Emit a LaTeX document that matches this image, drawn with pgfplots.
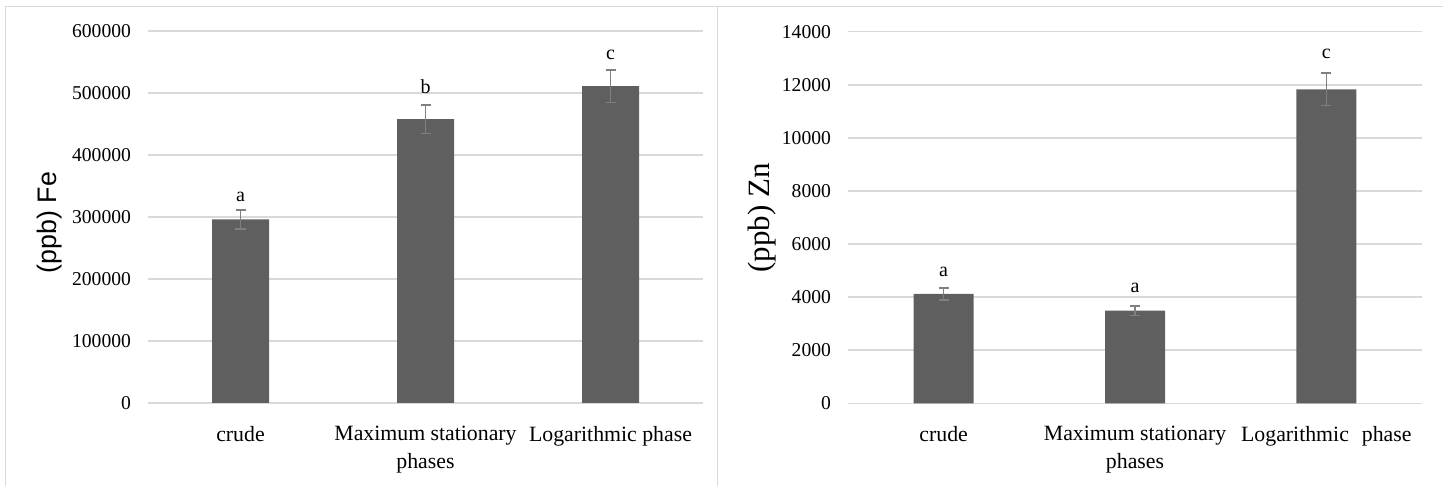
\documentclass[border=0pt]{standalone}
\usepackage{fontspec}
\setmainfont{Liberation Serif}
\newfontfamily\arialf{Liberation Sans}
\usepackage{pgfplots}
\usepackage{pgfplotstable}
\pgfplotsset{compat=1.18}
\definecolor{barc}{RGB}{95,95,95}
\definecolor{gridc}{RGB}{217,217,217}
\definecolor{errc}{RGB}{128,128,128}
\definecolor{framec}{RGB}{217,217,217}

\pgfplotstableread{
x y err
0 296000 15000
1 458000 23000
2 511000 26000
}\fedata
\pgfplotstableread{
x y lab
0 332000 a
1 509700 b
2 561300 c
}\felab
\pgfplotstableread{
x y err
0 4120 220
1 3490 180
2 11830 620
}\zndata
\pgfplotstableread{
x y lab
0 4945 a
1 4330 a
2 13160 c
}\znlab

\pgfplotsset{
 common/.style={
  scale only axis, anchor=south west,
  xmin=-0.5, xmax=2.5, xtick={0,1,2},
  axis line style={draw=none}, major tick length=0pt,
  ymajorgrids, major grid style={gridc, line width=0.75pt},
  tick label style={/pgf/number format/assume math mode=true},
  yticklabel style={font=\fontsize{9.8}{12}\selectfont, /pgf/number format/fixed, /pgf/number format/1000 sep={}, xshift=-5pt},
  scaled y ticks=false,
  xticklabel style={font=\fontsize{10.9}{14}\selectfont, align=center, yshift=-8pt},
  clip=false,
 },
 barsty/.style={ybar, fill=barc, draw=none,
   error bars/.cd, y dir=both, y explicit,
   error bar style={errc, line width=0.75pt},
   error mark options={rotate=90, errc, line width=0.75pt, mark size=2.5pt}},
 labsty/.style={draw=none, mark=none, nodes near coords, point meta=explicit symbolic,
   every node near coord/.append style={anchor=center, font=\fontsize{10}{12}\selectfont}},
}

\begin{document}
\begin{tikzpicture}
\path[use as bounding box] (0,0) rectangle (721.5pt,243pt);
\draw[framec, line width=0.6pt] (2.65pt,0) -- (2.65pt,239.6pt) -- (721.5pt,239.6pt);
\draw[framec, line width=0.6pt] (358.7pt,0) -- (358.7pt,239.6pt);

\begin{axis}[common, at={(74pt,41.5pt)}, width=277.5pt, height=186pt,
  ymin=0, ymax=600000, ytick={0,100000,...,600000},
  xticklabels={crude, {Maximum stationary\\phases}, {Logarithmic phase}},
  ylabel={(ppb) Fe},
  ylabel style={at={(axis description cs:-0.1766,0.485)}, anchor=center, font=\arialf\fontsize{13.4}{16}\selectfont},
  bar width=28.5pt]
\addplot[barsty] table[x=x, y=y, y error=err]{\fedata};
\addplot[labsty] table[x=x, y=y, meta=lab]{\felab};
\end{axis}

\begin{axis}[common, at={(424pt,41.35pt)}, width=287pt, height=185.8pt,
  ymin=0, ymax=14000, ytick={0,2000,...,14000},
  xticklabels={crude, {Maximum stationary\\phases}, {Logarithmic\hspace{6.5pt}phase}},
  ylabel={(ppb) Zn},
  ylabel style={at={(axis description cs:-0.1498,0.499)}, anchor=center, font=\fontsize{15.5}{18}\selectfont},
  bar width=30pt]
\addplot[barsty] table[x=x, y=y, y error=err]{\zndata};
\addplot[labsty] table[x=x, y=y, meta=lab]{\znlab};
\end{axis}
\end{tikzpicture}
\end{document}
